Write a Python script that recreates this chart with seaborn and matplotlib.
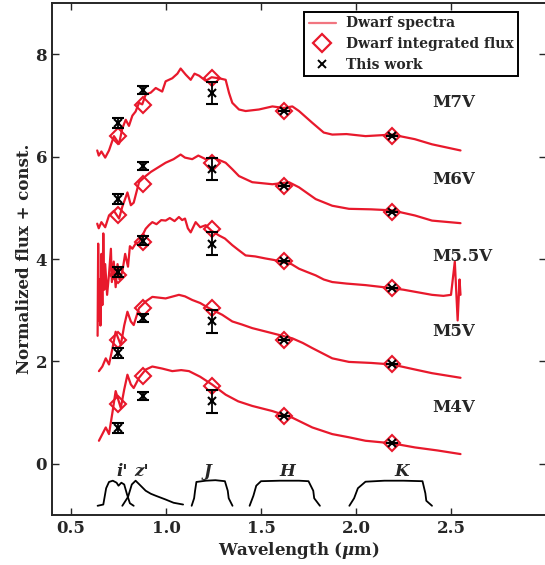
import numpy as np
import pandas as pd
import matplotlib
matplotlib.use("Agg")
import matplotlib.pyplot as plt
import seaborn as sns
from matplotlib.lines import Line2D

# spectra (wavelength in micron, normalized flux + const)
wl_m7 = [0.638, 0.646, 0.66, 0.68, 0.70, 0.726, 0.753, 0.77, 0.788, 0.805, 0.823, 0.84, 0.858, 0.875, 0.893, 0.92,
         0.946, 0.98, 0.998, 1.033, 1.06, 1.077, 1.104, 1.13, 1.15, 1.174, 1.209, 1.24, 1.279, 1.314, 1.332, 1.349,
         1.384, 1.419, 1.489, 1.56, 1.62, 1.665, 1.70, 1.77, 1.83, 1.875, 1.95, 2.05, 2.19, 2.31, 2.40, 2.55]
fl_m7 = [6.12, 6.02, 6.10, 5.98, 6.12, 6.40, 6.25, 6.55, 6.72, 6.60, 6.80, 6.88, 7.05, 7.02, 7.21, 7.25,
         7.34, 7.27, 7.47, 7.53, 7.62, 7.72, 7.60, 7.50, 7.62, 7.58, 7.48, 7.55, 7.53, 7.50, 7.24, 7.05,
         6.92, 6.89, 6.92, 6.98, 6.95, 6.98, 6.89, 6.66, 6.47, 6.43, 6.44, 6.40, 6.43, 6.34, 6.24, 6.12]

wl_m6 = [0.638, 0.646, 0.66, 0.68, 0.70, 0.726, 0.753, 0.77, 0.797, 0.815, 0.83, 0.858, 0.893, 0.92, 0.946,
         0.998, 1.04, 1.077, 1.10, 1.138, 1.17, 1.209, 1.25, 1.314, 1.35, 1.384, 1.454, 1.56, 1.647, 1.70,
         1.788, 1.875, 1.963, 2.08, 2.19, 2.31, 2.40, 2.55]
fl_m6 = [4.69, 4.60, 4.72, 4.62, 4.85, 4.94, 4.79, 5.02, 5.30, 5.05, 5.10, 5.50, 5.62, 5.70, 5.76,
         5.88, 5.95, 6.04, 5.98, 5.95, 6.02, 5.95, 5.98, 5.88, 5.75, 5.62, 5.50, 5.46, 5.50, 5.40,
         5.17, 5.04, 4.98, 4.97, 4.95, 4.85, 4.75, 4.70]

wl_m55 = [0.640, 0.643, 0.646, 0.650, 0.655, 0.660, 0.665, 0.670, 0.675, 0.680, 0.690, 0.700, 0.710, 0.715,
          0.725, 0.735, 0.745, 0.755, 0.770, 0.785, 0.800, 0.810, 0.823, 0.840, 0.858, 0.876, 0.893, 0.91,
          0.928, 0.95, 0.975, 0.998, 1.02, 1.045, 1.068, 1.085, 1.10, 1.115, 1.13, 1.156, 1.18, 1.209, 1.24,
          1.279, 1.31, 1.349, 1.38, 1.419, 1.47, 1.524, 1.57, 1.61, 1.66, 1.70, 1.74, 1.788, 1.83, 1.875,
          1.95, 2.05, 2.12, 2.19, 2.25, 2.31, 2.40, 2.46, 2.50, 2.52, 2.535, 2.545, 2.55]
fl_m55 = [2.50, 4.30, 2.80, 3.60, 2.70, 4.10, 3.10, 4.50, 3.40, 3.90, 3.30, 3.70, 4.20, 3.55,
          3.95, 3.45, 3.90, 3.60, 3.75, 4.10, 3.85, 4.25, 4.20, 4.30, 4.33, 4.46, 4.59, 4.66,
          4.72, 4.68, 4.76, 4.75, 4.80, 4.74, 4.82, 4.76, 4.79, 4.60, 4.52, 4.72, 4.62, 4.66, 4.55,
          4.46, 4.40, 4.27, 4.18, 4.07, 4.05, 4.01, 3.98, 3.94, 3.90, 3.81, 3.75, 3.68, 3.60, 3.55,
          3.52, 3.49, 3.46, 3.43, 3.40, 3.36, 3.30, 3.28, 3.30, 3.95, 2.80, 3.60, 3.30]

wl_m5 = [0.647, 0.665, 0.683, 0.70, 0.718, 0.735, 0.762, 0.78, 0.797, 0.815, 0.83, 0.858, 0.893, 0.928,
         0.998, 1.068, 1.10, 1.138, 1.18, 1.226, 1.296, 1.349, 1.40, 1.454, 1.56, 1.665, 1.72, 1.77, 1.875,
         1.963, 2.08, 2.19, 2.30, 2.40, 2.55]
fl_m5 = [1.81, 1.90, 2.06, 1.94, 2.25, 2.58, 2.32, 2.70, 2.97, 2.78, 2.71, 3.04, 3.17, 3.26,
         3.23, 3.30, 3.27, 3.20, 3.14, 3.04, 2.91, 2.78, 2.72, 2.65, 2.55, 2.45, 2.36, 2.26, 2.06,
         1.99, 1.97, 1.94, 1.85, 1.77, 1.68]

wl_m4 = [0.647, 0.665, 0.683, 0.70, 0.718, 0.735, 0.762, 0.78, 0.797, 0.815, 0.83, 0.858, 0.893, 0.928,
         0.98, 1.033, 1.08, 1.121, 1.18, 1.242, 1.314, 1.38, 1.454, 1.56, 1.665, 1.77, 1.875, 1.96, 2.05,
         2.19, 2.31, 2.43, 2.55]
fl_m4 = [0.45, 0.58, 0.71, 0.58, 1.00, 1.42, 1.09, 1.45, 1.74, 1.55, 1.48, 1.68, 1.84, 1.90,
         1.86, 1.81, 1.83, 1.81, 1.70, 1.55, 1.35, 1.22, 1.13, 1.03, 0.90, 0.71, 0.58, 0.52, 0.45,
         0.40, 0.32, 0.26, 0.19]

spectral_types = ["M7V", "M6V", "M5.5V", "M5V", "M4V"]
label_y = [7.05, 5.55, 4.05, 2.58, 1.09]

# band centres for the integrated points
band_wl = [0.75, 0.88, 1.24, 1.62, 2.19]
dwarf_flux = {
    "M7V": [6.41, 7.01, 7.53, 6.89, 6.41],
    "M6V": [4.85, 5.46, 5.88, 5.43, 4.91],
    "M5.5V": [3.68, 4.33, 4.59, 3.97, 3.43],
    "M5V": [2.42, 3.04, 3.04, 2.42, 1.94],
    "M4V": [1.16, 1.71, 1.51, 0.93, 0.41],
}
this_work = {
    "M7V": [6.66, 7.30, 7.24, 6.89, 6.41],
    "M6V": [5.17, 5.82, 5.76, 5.43, 4.91],
    "M5.5V": [3.75, 4.36, 4.30, 3.97, 3.43],
    "M5V": [2.16, 2.84, 2.78, 2.42, 1.94],
    "M4V": [0.70, 1.32, 1.22, 0.93, 0.41],
}
this_work_err = [0.10, 0.08, 0.22, 0.0, 0.0]

# filter transmission curves (normalized)
filt_names = ["i'", "z'", "J", "H", "K"]
filt_label_x = [0.77, 0.87, 1.22, 1.64, 2.24]
filt_wl = [
    [0.64, 0.67, 0.685, 0.70, 0.72, 0.74, 0.75, 0.765, 0.78, 0.795, 0.81, 0.83],
    [0.77, 0.80, 0.82, 0.84, 0.86, 0.893, 0.92, 0.946, 0.998, 1.04, 1.09],
    [1.135, 1.148, 1.153, 1.16, 1.21, 1.26, 1.31, 1.325, 1.33, 1.35],
    [1.44, 1.46, 1.475, 1.50, 1.60, 1.70, 1.75, 1.775, 1.78, 1.81],
    [1.965, 1.99, 2.01, 2.05, 2.15, 2.25, 2.35, 2.365, 2.37, 2.40],
]
filt_tr = [
    [0.0, 0.05, 0.70, 0.95, 1.00, 0.92, 0.80, 0.92, 0.85, 0.45, 0.10, 0.0],
    [0.0, 0.35, 0.85, 1.00, 0.85, 0.60, 0.48, 0.40, 0.25, 0.12, 0.05],
    [0.0, 0.30, 0.60, 0.95, 1.00, 1.02, 0.98, 0.60, 0.30, 0.0],
    [0.0, 0.40, 0.80, 0.98, 1.00, 1.00, 0.98, 0.60, 0.30, 0.0],
    [0.0, 0.30, 0.70, 0.96, 1.00, 1.00, 0.98, 0.50, 0.20, 0.0],
]

spectra = [(wl_m7, fl_m7), (wl_m6, fl_m6), (wl_m55, fl_m55), (wl_m5, fl_m5), (wl_m4, fl_m4)]

sns.set_style("ticks")
plt.rcParams['font.family'] = ['DejaVu Serif']
plt.rcParams['font.weight'] = 'bold'
plt.rcParams['mathtext.fontset'] = 'dejavuserif'

red = '#e8192c'

fig = plt.figure(figsize=(5.45, 5.65), dpi=100)
ax = fig.add_axes([52 / 545, 50 / 565, 494 / 545, 512 / 565])

for (wl, fl), st in zip(spectra, spectral_types):
    df = pd.DataFrame({'wl': wl, 'flux': fl})
    sns.lineplot(data=df, x='wl', y='flux', ax=ax, color=red, lw=1.6, sort=False, estimator=None)

for st in spectral_types:
    ax.plot(band_wl, dwarf_flux[st], ls='none', marker='D', ms=8, mfc='none', mec=red, mew=1.5)
    ax.errorbar(band_wl, this_work[st], yerr=this_work_err, fmt='x', color='black', ms=6, mew=1.5,
                elinewidth=1.3, capsize=4, capthick=1.3)

for st, yl in zip(spectral_types, label_y):
    ax.text(2.40, yl, st, fontsize=12, fontweight='bold', va='center', ha='left')

# filter curves along the bottom
base, height = -0.82, 0.49
for wl, tr, nm, lx in zip(filt_wl, filt_tr, filt_names, filt_label_x):
    ax.plot(wl, base + height * np.array(tr), color='black', lw=1.3)
    ax.text(lx, -0.16, nm, fontsize=12, ha='center', va='center', fontstyle='italic', fontweight='bold')

ax.set_xlim(0.4, 3.0)
ax.set_ylim(-1, 9)
ax.set_xticks([0.5, 1.0, 1.5, 2.0, 2.5])
ax.set_yticks([0, 2, 4, 6, 8])
ax.tick_params(direction='in', top=True, right=True, length=5, labelsize=12, width=1)
for lab in ax.get_xticklabels() + ax.get_yticklabels():
    lab.set_fontweight('bold')
for sp in ax.spines.values():
    sp.set_linewidth(1.4)

ax.set_xlabel(r'Wavelength ($\mu$m)', fontsize=12, fontweight='bold', labelpad=2)
ax.set_ylabel('Normalized flux + const.', fontsize=12, fontweight='bold', labelpad=2)

handles = [
    Line2D([], [], color=red, lw=1.6, alpha=0.6),
    Line2D([], [], ls='none', marker='D', ms=9, mfc='none', mec=red, mew=1.6),
    Line2D([], [], ls='none', marker='x', ms=6, mew=1.4, color='black'),
]
leg = ax.legend(handles, ['Dwarf spectra', 'Dwarf integrated flux', 'This work'], loc='upper right',
                bbox_to_anchor=(0.943, 0.982), borderaxespad=0, fancybox=False, framealpha=1,
                edgecolor='black', handlelength=2.0, handletextpad=0.7,
                labelspacing=0.5, borderpad=0.3, prop={'weight': 'bold', 'size': 10})
leg.get_frame().set_linewidth(1.4)

plt.savefig('out.png', dpi=100, facecolor='white')
